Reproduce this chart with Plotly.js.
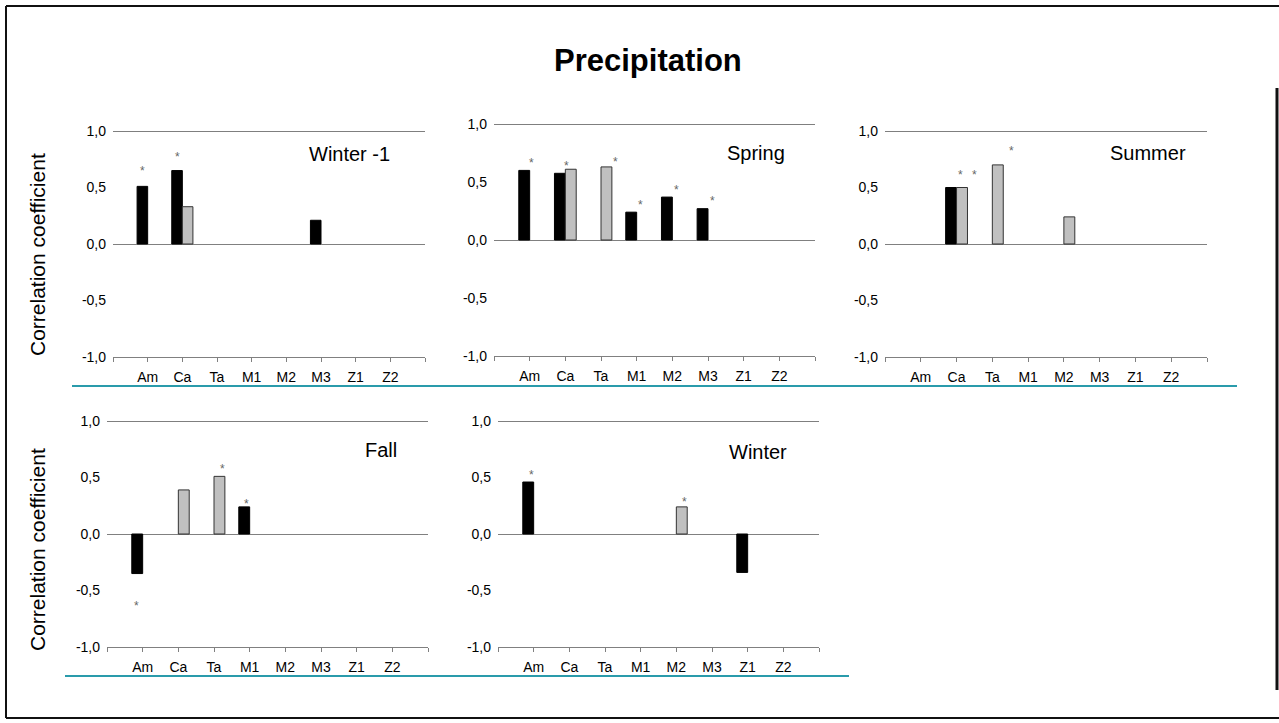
<!DOCTYPE html>
<html>
<head>
<meta charset="utf-8">
<script src="https://cdn.plot.ly/plotly-3.0.1.min.js"></script>
<style>html,body{margin:0;padding:0;background:#fff;}#chart{width:1279px;height:723px;}</style>
</head>
<body>
<div id="chart"></div>
<script>
// ---- data ----
const categories = ['Am','Ca','Ta','M1','M2','M3','Z1','Z2'];
const panelNames = ['Winter -1','Spring','Summer','Fall','Winter'];
const yTickVals = [-1, -0.5, 0, 0.5, 1];
const yTickText = ['-1,0','-0,5','0,0','0,5','1,0'];
const chartTitle = 'Precipitation';
const yTitle = 'Correlation coefficient';

// black series (first bar) and grey series (second bar) per panel
const blackWinterPrev = [0.51, 0.65, null, null, null, 0.21, null, null];
const greyWinterPrev  = [null, 0.33, null, null, null, null, null, null];
const blackSpring     = [0.60, 0.575, null, 0.24, 0.37, 0.27, null, null];
const greySpring      = [null, 0.61, 0.63, null, null, null, null, null];
const blackSummer     = [null, 0.50, null, null, null, null, null, null];
const greySummer      = [null, 0.50, 0.70, null, 0.24, null, null, null];
const blackFall       = [-0.35, null, null, 0.24, null, null, null, null];
const greyFall        = [null, 0.39, 0.51, null, null, null, null, null];
const blackWinter     = [0.46, null, null, null, null, null, -0.34, null];
const greyWinter      = [null, null, null, null, 0.24, null, null, null];

// significance asterisks: [category, shift in category units, height]
const starsWinterPrev = [['Am', -0.15, 0.67], ['Ca', -0.15, 0.80]];
const starsSpring     = [['Am', 0.06, 0.69], ['Ca', 0.04, 0.66], ['Ta', 0.40, 0.70], ['M1', 0.11, 0.33], ['M2', 0.13, 0.46], ['M3', 0.14, 0.36]];
const starsSummer     = [['Ca', 0.11, 0.64], ['Ca', 0.51, 0.64], ['Ta', 0.53, 0.85]];
const starsFall       = [['Am', -0.16, -0.61], ['Ta', 0.25, 0.60], ['M1', -0.08, 0.29]];
const starsWinter     = [['Am', -0.05, 0.55], ['M2', 0.23, 0.31]];

const blackSeries = [blackWinterPrev, blackSpring, blackSummer, blackFall, blackWinter];
const greySeries  = [greyWinterPrev, greySpring, greySummer, greyFall, greyWinter];
const starSeries  = [starsWinterPrev, starsSpring, starsSummer, starsFall, starsWinter];

// ---- layout geometry (pixels) ----
const W = 1279, H = 723;
const boxes = [
  {l:113, r:425, t:131, b:357, lab:[392,154]},
  {l:494, r:815, t:124, b:356, lab:[787,153]},
  {l:885, r:1207, t:131, b:357, lab:[1188,153]},
  {l:107, r:428, t:421, b:647, lab:[399,450]},
  {l:498, r:819, t:421, b:647, lab:[789,452]}
];
const px = v => v / W;
const py = v => 1 - v / H;
const FONT = 'Liberation Sans, Arial, sans-serif';

const xIdx = categories.map((c, i) => i);
const traces = [];
const layout = {
  width: W, height: H,
  margin: {l:0, r:0, t:0, b:0},
  paper_bgcolor: '#fff', plot_bgcolor: 'rgba(0,0,0,0)',
  barmode: 'group', bargap: 0.39, bargroupgap: 0,
  showlegend: false,
  font: {family: FONT, color: '#000'},
  shapes: [], annotations: []
};

boxes.forEach((b, k) => {
  const n = k === 0 ? '' : String(k + 1);
  const xa = 'x' + n, ya = 'y' + n;
  traces.push({type:'bar', x: xIdx, y: blackSeries[k], xaxis: xa, yaxis: ya,
    marker: {color:'#000000', line:{color:'#000000', width:1}}, hoverinfo:'y'});
  traces.push({type:'bar', x: xIdx, y: greySeries[k], xaxis: xa, yaxis: ya,
    marker: {color:'#c0c0c0', line:{color:'#333333', width:1}}, hoverinfo:'y'});
  layout['xaxis' + n] = {
    domain: [px(b.l), px(b.r)], anchor: ya, range: [-1, 8],
    tickmode: 'array', tickvals: [-1].concat(xIdx, [8]), ticktext: [''].concat(categories, ['']),
    ticks: 'outside', ticklen: 4, tickcolor: '#808080', tickwidth: 1,
    showline: true, linecolor: '#808080', linewidth: 1,
    showgrid: false, zeroline: false, fixedrange: true, ticklabelstandoff: 3,
    tickfont: {size: 14, family: FONT, color: '#000'}
  };
  layout['yaxis' + n] = {
    domain: [py(b.b), py(b.t)], anchor: xa, range: [-1, 1],
    tickmode: 'array', tickvals: yTickVals, ticktext: yTickText,
    ticks: '', showline: false, showgrid: false, ticklabelstandoff: 6,
    zeroline: true, zerolinecolor: '#808080', zerolinewidth: 1, fixedrange: true,
    tickfont: {size: 14, family: FONT, color: '#000'}
  };
  // top line at 1,0
  layout.shapes.push({type:'line', xref: xa + ' domain', yref: ya, x0: 0, x1: 1, y0: 1, y1: 1,
    line: {color:'#000', width:1}});
  // panel label
  layout.annotations.push({xref:'paper', yref:'paper', x: px(b.lab[0]), y: py(b.lab[1]),
    xanchor:'right', yanchor:'middle', showarrow:false, text: panelNames[k],
    font: {size: 20, family: FONT, color:'#000'}});
  // asterisks
  starSeries[k].forEach(s => {
    layout.annotations.push({xref: xa, yref: ya, x: categories.indexOf(s[0]) + s[1], y: s[2],
      xanchor:'center', yanchor:'middle', yshift: -3, showarrow:false, text:'*',
      font: {size: 12, family: FONT, color:'#666'}});
  });
});

// main title
layout.annotations.push({xref:'paper', yref:'paper', x: px(648), y: py(60), xanchor:'center', yanchor:'middle',
  showarrow:false, text: '<b>' + chartTitle + '</b>', font:{size: 31, family: FONT, color:'#000'}});
// y titles
[[37, 255], [37, 550]].forEach(p => {
  layout.annotations.push({xref:'paper', yref:'paper', x: px(p[0]), y: py(p[1]), xanchor:'center', yanchor:'middle',
    textangle: -90, showarrow:false, text: yTitle, font:{size: 21, family: FONT, color:'#000'}});
});
// separator lines
layout.shapes.push({type:'line', xref:'paper', yref:'paper', x0: px(72), x1: px(1237), y0: py(386), y1: py(386),
  line:{color:'#2a9bab', width:2}});
layout.shapes.push({type:'line', xref:'paper', yref:'paper', x0: px(65), x1: px(849), y0: py(676), y1: py(676),
  line:{color:'#2a9bab', width:2}});
// outer frame
const frameLine = {color:'#111', width:2};
layout.shapes.push({type:'line', xref:'paper', yref:'paper', x0: px(6), x1: px(1279), y0: py(6), y1: py(6), line: frameLine});
layout.shapes.push({type:'line', xref:'paper', yref:'paper', x0: px(6), x1: px(6), y0: py(6), y1: py(718), line: frameLine});
layout.shapes.push({type:'line', xref:'paper', yref:'paper', x0: px(6), x1: px(1279), y0: py(718), y1: py(718), line: frameLine});
layout.shapes.push({type:'line', xref:'paper', yref:'paper', x0: px(1277), x1: px(1277), y0: py(88), y1: py(690), line: {color:'#111', width:3}});

Plotly.newPlot('chart', traces, layout, {staticPlot: true, displayModeBar: false});
</script>
</body>
</html>
